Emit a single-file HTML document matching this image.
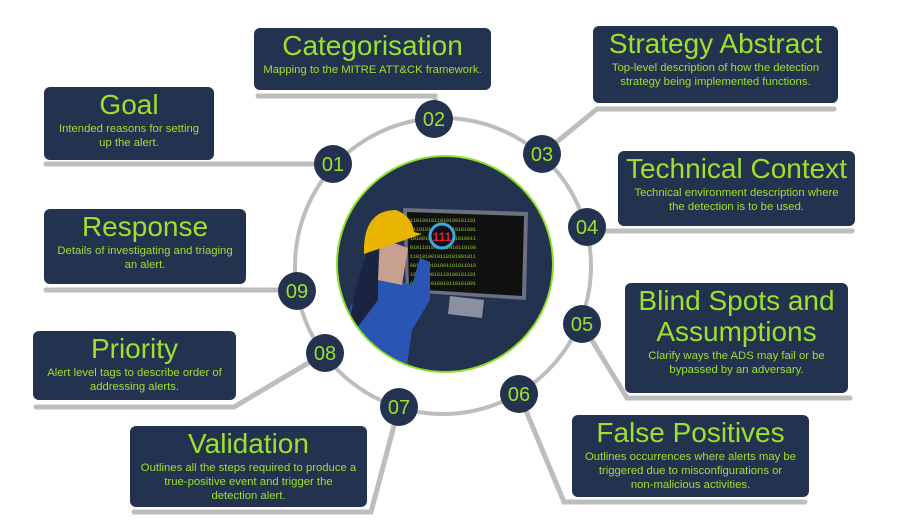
<!DOCTYPE html>
<html><head><meta charset="utf-8"><style>
body{margin:0;background:#fff;width:912px;height:529px;overflow:hidden;position:relative;font-family:"Liberation Sans",sans-serif}
svg{position:absolute;left:0;top:0}
.b{position:absolute;background:#22324f;border-radius:6px;color:#9fe02c;text-align:center;box-sizing:border-box;padding-top:2px}
.b h{display:block;font-size:28px;line-height:31px}
.b p{margin:2px 0 0;font-size:11.3px;line-height:14px}
</style></head><body>
<svg width="912" height="529" viewBox="0 0 912 529">
<g stroke="#bdbdbd" stroke-width="5" fill="none" stroke-linecap="round">
<circle cx="443" cy="266" r="148" stroke-width="4"/>
<path d="M46 164H333"/>
<path d="M258 96H435V119"/>
<path d="M597 109H834M597 109L542 154"/>
<path d="M587 231H852"/>
<path d="M582 324L627 398H850"/>
<path d="M519 394L564 502H805"/>
<path d="M399 407L371 512H134"/>
<path d="M325 353L234 407H36"/>
<path d="M46 290H297"/>
</g>
<g fill="#22324f">
<circle cx="333" cy="164" r="19"/><circle cx="434" cy="119" r="19"/><circle cx="542" cy="154" r="19"/>
<circle cx="587" cy="227" r="19"/><circle cx="582" cy="324" r="19"/><circle cx="519" cy="394" r="19"/>
<circle cx="399" cy="407" r="19"/><circle cx="325" cy="353" r="19"/><circle cx="297" cy="291" r="19"/>
</g>
<g fill="#9fe02c" font-family="Liberation Sans,sans-serif" font-size="20" text-anchor="middle">
<text x="333" y="171">01</text><text x="434" y="126">02</text><text x="542" y="161">03</text>
<text x="587" y="234">04</text><text x="582" y="331">05</text><text x="519" y="401">06</text>
<text x="399" y="414">07</text><text x="325" y="360">08</text><text x="297" y="298">09</text>
</g>
<circle cx="445" cy="264" r="108" fill="#22324f" stroke="#8fe02a" stroke-width="2"/>
<clipPath id="c"><circle cx="445" cy="264" r="107"/></clipPath>
<g clip-path="url(#c)">
<path d="M403 208L528 212L526 300L406 292Z" fill="#6b7180"/>
<path d="M407 212L524 216L522 296L409 289Z" fill="#111"/>
<g fill="#8fd02a" font-size="5" font-family="Liberation Mono,monospace">
<text x="410" y="222">1101001011010100101101</text><text x="410" y="231">0110101001011010101001</text>
<text x="410" y="240">1010010110101101010011</text><text x="410" y="249">0101101001011010110100</text>
<text x="410" y="258">1101010010110101001011</text><text x="410" y="267">0010110101001101011010</text>
<text x="410" y="276">1011010010110100101101</text><text x="410" y="285">0101101010010110101001</text>
</g>
<path d="M450 296L484 300L482 318L448 314Z" fill="#8a90a0"/>
<circle cx="442" cy="236" r="12" fill="#111" stroke="#3aa8e0" stroke-width="3"/>
<text x="442" y="241" fill="#e0203a" font-size="12" font-weight="bold" text-anchor="middle">111</text>
<path d="M345 330Q350 285 385 278L412 285L420 258L430 262L430 300L412 330L405 380L335 380Z" fill="#2a55b5"/>
<path d="M380 238L408 248L402 285L378 280Z" fill="#c8a090"/>
<path d="M368 250Q350 300 348 340L378 300L378 250Z" fill="#1a2440"/>
<path d="M364 246Q366 210 396 210Q412 216 414 232L422 234L364 254Z" fill="#e8b400"/>
</g>
</svg>
<div class="b" style="left:44px;top:87px;width:170px;height:73px"><h>Goal</h><p>Intended reasons for setting<br>up the alert.</p></div>
<div class="b" style="left:254px;top:28px;width:237px;height:62px"><h>Categorisation</h><p>Mapping to the MITRE ATT&amp;CK framework.</p></div>
<div class="b" style="left:593px;top:26px;width:245px;height:77px"><h>Strategy Abstract</h><p>Top-level description of how the detection<br>strategy being implemented functions.</p></div>
<div class="b" style="left:618px;top:151px;width:237px;height:75px"><h>Technical Context</h><p>Technical environment description where<br>the detection is to be used.</p></div>
<div class="b" style="left:625px;top:283px;width:223px;height:110px"><h>Blind Spots and<br>Assumptions</h><p>Clarify ways the ADS may fail or be<br>bypassed by an adversary.</p></div>
<div class="b" style="left:572px;top:415px;width:237px;height:82px"><h>False Positives</h><p>Outlines occurrences where alerts may be<br>triggered due to misconfigurations or<br>non-malicious activities.</p></div>
<div class="b" style="left:130px;top:426px;width:237px;height:81px"><h>Validation</h><p>Outlines all the steps required to produce a<br>true-positive event and trigger the<br>detection alert.</p></div>
<div class="b" style="left:33px;top:331px;width:203px;height:69px"><h>Priority</h><p>Alert level tags to describe order of<br>addressing alerts.</p></div>
<div class="b" style="left:44px;top:209px;width:202px;height:75px"><h>Response</h><p>Details of investigating and triaging<br>an alert.</p></div>
</body></html>
